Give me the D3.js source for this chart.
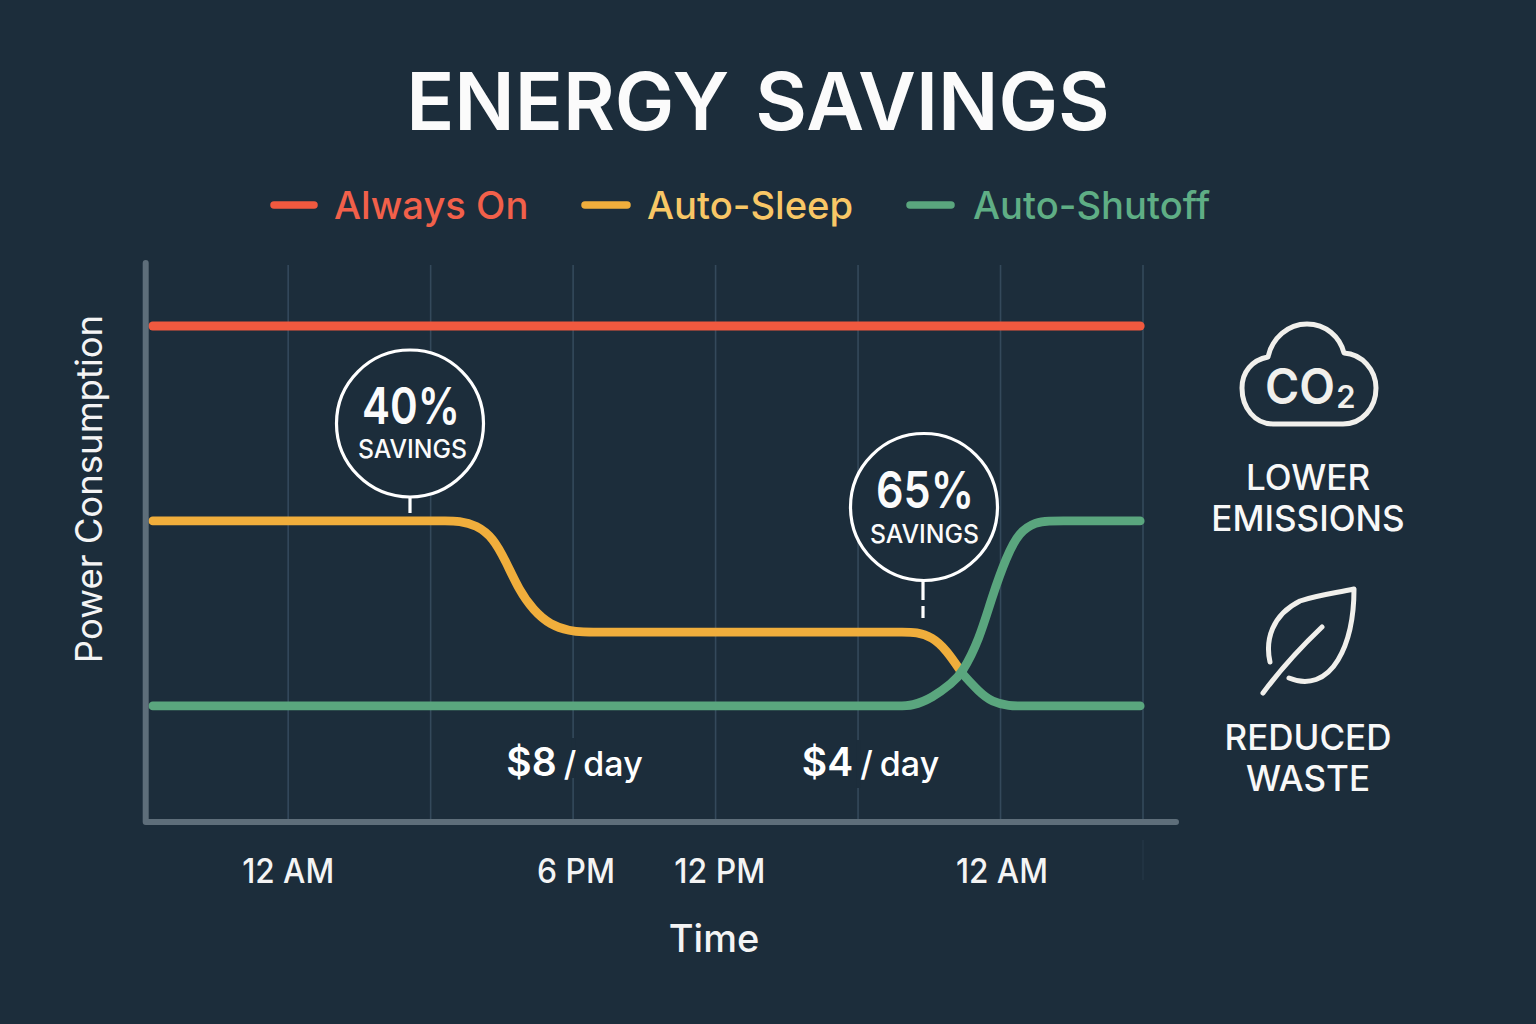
<!DOCTYPE html>
<html><head><meta charset="utf-8">
<script src="https://cdn.jsdelivr.net/npm/d3@7/dist/d3.min.js"></script>
<style>html,body{margin:0;background:#1c2d3b}svg{display:block}text{font-family:Inter,"Noto Sans",sans-serif}</style>
</head><body><svg id="c" width="1536" height="1024"></svg>
<script>
const titleText = "ENERGY SAVINGS";
const seriesNames = ["Always On","Auto-Sleep","Auto-Shutoff"];
const seriesColors = ["#f0593f","#f0ae3c","#5aa67e"];
const legendTextColors = ["#f2604a","#f8c766","#5fae85"];
const gridTicks = [1,2,3,4,5,6,7];
const tickLabels = ["12 AM","6 PM","12 PM","12 AM"];
const tickPositions = [1,3.02,4.03,6.01];
const alwaysX = [0.05,6.98];
const alwaysY = [100,100];
const sleepX = [0.05,1,2,2.1,2.20,2.32,2.44,2.53,2.62,2.72,2.84,2.98,3.07,3.17,3.3,4,5,5.2,5.31,5.41,5.52,5.62,5.73];
const sleepY = [60.7,60.7,60.7,60.7,60.7,59.9,57.3,52.4,46.8,42.7,39.7,38.5,38.3,38.3,38.3,38.3,38.3,38.3,38.3,38.3,37.3,34.7,30];
const sleepTailX = [5.73,5.85,5.94,6.06,6.16,6.3,6.98];
const sleepTailY = [30,26.2,24.2,23.4,23.4,23.4,23.4];
const shutX = [0.05,1,3,5,5.15,5.28,5.38,5.52,5.66,5.73,5.85,5.94,6.04,6.13,6.25,6.34,6.44,6.55,6.98];
const shutY = [23.4,23.4,23.4,23.4,23.4,23.4,23.4,25,28,30,36.7,45.4,53.4,58.5,60.5,60.7,60.7,60.7,60.7];
const calloutLabels = ["40%","65%"];
const costLabels = [["$8"," / day"],["$4"," / day"]];

const bg = "#1c2d3b";
const svg = d3.select("#c");
const x = d3.scaleLinear().domain([0,7]).range([145.7,1143]);
const y = d3.scaleLinear().domain([0,100]).range([822,326]);
const white = "#ffffff", off = "#f1f0ec";

function txt(px,py,s,size,weight,fill,anchor){
  return svg.append("text").attr("x",px).attr("y",py).attr("font-size",size)
    .attr("font-weight",weight).attr("fill",fill||white).attr("text-anchor",anchor||"middle").text(s);
}
function fit(sel,w){ return sel.attr("textLength",w).attr("lengthAdjust","spacingAndGlyphs"); }

txt(758,130,titleText,79.6,600,"#fbfbfb").attr("word-spacing",6);

// legend
const legX=[274,585,910], legW=[40,42,41], legTX=[334,647,973];
seriesNames.forEach((n,i)=>{
  svg.append("line").attr("x1",legX[i]).attr("x2",legX[i]+legW[i]).attr("y1",205).attr("y2",205)
    .attr("stroke",seriesColors[i]).attr("stroke-width",7.5).attr("stroke-linecap","round");
  txt(legTX[i],219,n,38.2,500,legendTextColors[i],"start");
});

// grid
svg.append("g").selectAll("line").data(gridTicks).join("line")
  .attr("x1",d=>x(d)).attr("x2",d=>x(d)).attr("y1",265).attr("y2",820)
  .attr("stroke","#34495b").attr("stroke-width",1.6);
svg.append("line").attr("x1",x(7)).attr("x2",x(7)).attr("y1",840).attr("y2",880)
  .attr("stroke","#34495b").attr("stroke-width",1.4).attr("opacity",.35);

// gaps in the grid behind the cost labels
[[3,738,778],[5,740,788]].forEach(([g,a,b])=>{
  svg.append("rect").attr("x",x(g)-2).attr("width",4).attr("y",a).attr("height",b-a).attr("fill",bg);
});

// series
const line = d3.line().x(d=>x(d[0])).y(d=>y(d[1])).curve(d3.curveBasis);
const drawn = [[alwaysX,alwaysY,0],[sleepX,sleepY,1],[sleepTailX,sleepTailY,2],[shutX,shutY,2]];
drawn.forEach(([xs,ys,c])=>{
  svg.append("path").attr("d",line(xs.map((v,k)=>[v,ys[k]]))).attr("fill","none")
    .attr("stroke",seriesColors[c]).attr("stroke-width",c==0?9:8.8).attr("stroke-linecap","round");
});

// axes, over the line starts
svg.append("path").attr("d",`M${x(0)} 263V${y(0)}H1176`).attr("fill","none")
  .attr("stroke","#5e6e7a").attr("stroke-width",6).attr("stroke-linecap","round").attr("stroke-linejoin","round");

// callouts
const callouts=[[410,423.5,calloutLabels[0],34,2.5],[924,507,calloutLabels[1],36,0.5]];
callouts.forEach(([cx,cy,l,dy,sx],i)=>{
  svg.append("circle").attr("cx",cx).attr("cy",cy).attr("r",73.5).attr("fill",bg).attr("stroke",white).attr("stroke-width",3.2);
  fit(txt(cx+1,cy+0.5,l,51,600,"#fbfbfb"),98);
  fit(txt(cx+sx,cy+dy,"SAVINGS",25.5,500,"#fbfbfb"),109);
});
svg.append("line").attr("x1",410).attr("x2",410).attr("y1",498).attr("y2",513).attr("stroke",white).attr("stroke-width",3.2);
svg.append("line").attr("x1",923).attr("x2",923).attr("y1",581).attr("y2",600).attr("stroke",white).attr("stroke-width",3.2);
svg.append("line").attr("x1",923).attr("x2",923).attr("y1",606).attr("y2",618).attr("stroke",white).attr("stroke-width",3.2);

// cost labels
[[574.5,costLabels[0]],[870.5,costLabels[1]]].forEach(([cx,l])=>{
  const t=txt(cx,776,"",39,600).attr("word-spacing",-2);
  t.append("tspan").text(l[0]);
  t.append("tspan").attr("font-size",34).attr("font-weight",500).text(l[1]);
});

// axis labels
const tickW=[92,78,91,92];
tickLabels.forEach((l,i)=>fit(txt(x(tickPositions[i]),883,l,34,500,"#f4f4f4"),tickW[i]));
txt(714,952,"Time",38,500,"#f4f4f4");
txt(0,0,"Power Consumption",36.5,400,"#f4f4f4").attr("x",null).attr("y",null)
  .attr("transform","translate(102,489) rotate(-90)");

// side icons
svg.append("path").attr("d","M1273 424C1255 424 1242 408 1242 388C1242 372 1252 360 1268 357C1272 338 1288 324 1307 324C1326 324 1340 337 1344 353C1362 354 1376 370 1376 388C1376 408 1362 424 1343 424Z")
  .attr("fill","none").attr("stroke",off).attr("stroke-width",5).attr("stroke-linejoin","round");
fit(txt(1300,404,"CO",49,600,off),70);
txt(1346,408,"2",31,600,off);
txt(1308,490,"LOWER",35,500,"#f8f8f8");
txt(1308,531,"EMISSIONS",35,500,"#f8f8f8");
svg.append("path").attr("d","M1270 662C1265 640 1272 615 1300 601C1318 595 1336 593 1354 589C1354 615 1350 640 1338 660C1326 680 1308 686 1289 678M1263 693C1280 670 1300 648 1322 627")
  .attr("fill","none").attr("stroke",off).attr("stroke-width",5).attr("stroke-linecap","round").attr("stroke-linejoin","round");
txt(1308,750,"REDUCED",35,500,"#f8f8f8");
txt(1308,791,"WASTE",35,500,"#f8f8f8");
</script></body></html>
